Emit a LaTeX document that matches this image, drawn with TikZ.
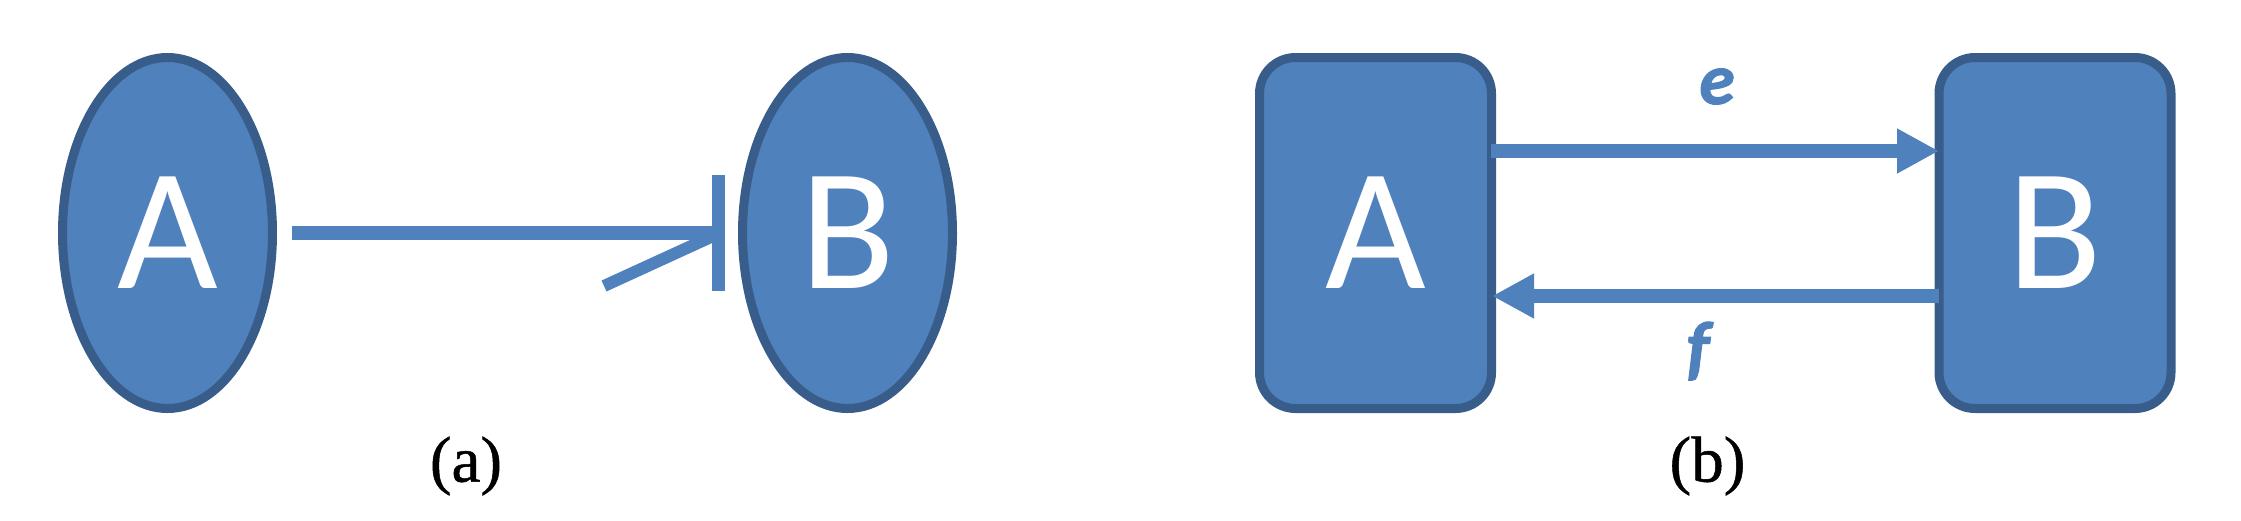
\documentclass[tikz,border=0pt]{standalone}
\usepackage{fontspec}
\setmainfont{Liberation Serif}[FakeBold=0.8]
\newfontfamily\calfont{Carlito}
\newfontfamily\calbi{Carlito Bold Italic}[FakeBold=1.5]
\usetikzlibrary{shapes.geometric,arrows.meta}
\definecolor{fillblue}{HTML}{4F81BD}
\definecolor{edgeblue}{HTML}{385D8A}
\tikzset{
  oval/.style={ellipse, draw=edgeblue, fill=fillblue, line width=9pt,
    minimum width=210pt, minimum height=351pt, inner sep=0pt, outer sep=0pt,
    text=white, font=\calfont\fontsize{174}{174}\selectfont},
  rbox/.style={rectangle, rounded corners=36pt, draw=edgeblue, fill=fillblue, line width=9pt,
    minimum width=232pt, minimum height=351pt, inner sep=0pt, outer sep=0pt,
    text=white, font=\calfont\fontsize{174}{174}\selectfont},
  conn/.style={draw=fillblue, line width=14pt, line cap=butt},
  edgelabel/.style={text=fillblue, inner sep=0pt, font=\calbi\fontsize{72}{72}\selectfont},
  caption/.style={inner sep=0pt, font=\fontsize{65}{65}\selectfont},
  tip/.style={-{Triangle[length=42pt,width=42pt]}}
}
\begin{document}
\begin{tikzpicture}[x=1pt,y=-1pt]
\useasboundingbox (0,0) rectangle (2241,520);
% (a)
\node[oval] (A1) at (167.5,233) {A};
\node[oval] (B1) at (847.5,233) {B};
\coordinate (bar) at ([xshift=-24pt]B1.west);
\coordinate (bartop) at ([yshift=58pt]bar);
\coordinate (barbot) at ([yshift=-58pt]bar);
\coordinate (hookend) at (604,286);
\coordinate (hookjoin) at (712,236.5);
\draw[conn, line width=13.5pt] ([xshift=19pt]A1.east) -- (bar);
\draw[conn, line width=13pt] (bartop) -- (barbot);
\draw[conn, line width=12pt] (hookend) -- (hookjoin);
\node[caption] (capa) at (466,466) {(a)};
% (b)
\node[rbox] (A2) at (1375.5,233) {A};
\node[rbox] (B2) at (2055,233) {B};
\draw[conn, tip] ([yshift=82pt,xshift=-0.5pt]A2.east) -- ([yshift=82pt]B2.west);
\draw[conn, tip] ([yshift=-63pt]B2.west) -- ([yshift=-63pt,xshift=0.5pt]A2.east);
\node[edgelabel] (e) at (1717,86.5) {e};
\node[edgelabel] (f) at (1698,351) {f};
\node[caption] (capb) at (1707.5,466) {(b)};
\end{tikzpicture}
\end{document}
